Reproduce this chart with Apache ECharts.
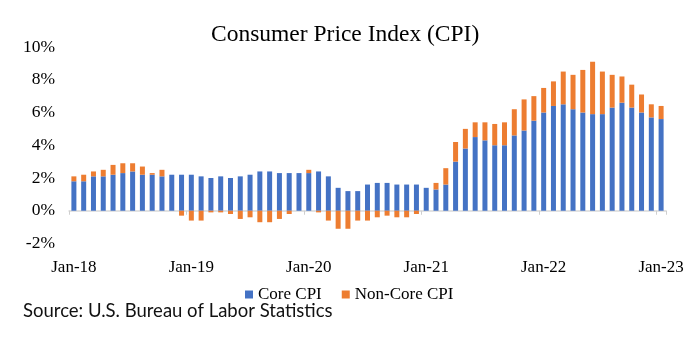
<!DOCTYPE html>
<html>
<head>
<meta charset="utf-8">
<script src="https://cdn.jsdelivr.net/npm/echarts@6/dist/echarts.min.js"></script>
<style>
  html, body { margin: 0; padding: 0; background: #fff; }
  #chart { width: 700px; height: 352px; }
</style>
</head>
<body>
<div id="chart"></div>
<script>
// months Jan-18 .. Jan-23
const years = ['18', '19', '20', '21', '22', '23']
const monthNames = ['Jan', 'Feb', 'Mar', 'Apr', 'May', 'Jun', 'Jul', 'Aug', 'Sep', 'Oct', 'Nov', 'Dec']
const months = []
years.forEach(y => monthNames.forEach(m => months.push(m + '-' + y)))
months.length = 61

// core CPI, % y/y
const coreCpi = [
  1.8, 1.8, 2.1, 2.1, 2.2, 2.3, 2.4, 2.2, 2.2, 2.1, 2.2, 2.2,
  2.2, 2.1, 2.0, 2.1, 2.0, 2.1, 2.2, 2.4, 2.4, 2.3, 2.3, 2.3,
  2.3, 2.4, 2.1, 1.4, 1.2, 1.2, 1.6, 1.7, 1.7, 1.6, 1.6, 1.6,
  1.4, 1.3, 1.6, 3.0, 3.8, 4.5, 4.3, 4.0, 4.0, 4.6, 4.9, 5.5,
  6.0, 6.4, 6.5, 6.2, 6.0, 5.9, 5.9, 6.3, 6.6, 6.3, 6.0, 5.7,
  5.6
]

// non-core contribution, percentage points
const nonCoreCpi = [
  0.3, 0.4, 0.3, 0.4, 0.6, 0.6, 0.5, 0.5, 0.1, 0.4, 0.0, -0.3,
  -0.6, -0.6, -0.1, -0.1, -0.2, -0.5, -0.4, -0.7, -0.7, -0.5, -0.2, 0.0,
  0.2, -0.1, -0.6, -1.1, -1.1, -0.6, -0.6, -0.4, -0.3, -0.4, -0.4, -0.2,
  0.0, 0.4, 1.0, 1.2, 1.2, 0.9, 1.1, 1.3, 1.4, 1.6, 1.9, 1.5,
  1.5, 1.5, 2.0, 2.1, 2.6, 3.2, 2.6, 2.0, 1.6, 1.4, 1.1, 0.8,
  0.8
]

const serif = '"Liberation Serif", "Times New Roman", serif'

const chart = echarts.init(document.getElementById('chart'))
const option = {
  animation: false,
  title: {
    text: 'Consumer Price Index (CPI)',
    left: 206,
    top: 18,
    textStyle: { fontFamily: serif, fontSize: 23.5, fontWeight: 'normal', color: '#000' }
  },
  legend: {
    left: 240,
    top: 281,
    itemWidth: 8,
    itemHeight: 8,
    itemGap: 20,
    icon: 'rect',
    textStyle: { fontFamily: serif, fontSize: 17, color: '#000' }
  },
  grid: { left: 69, right: 34, top: 47, bottom: 108.5 },
  xAxis: [
    {
      type: 'category',
      data: months,
      position: 'bottom',
      axisLine: { onZero: true, lineStyle: { color: '#d9d9d9', width: 1.5 } },
      axisTick: { show: true, interval: 11, length: 4, lineStyle: { color: '#cfcfcf' } },
      axisLabel: { show: false }
    },
    {
      type: 'category',
      data: months,
      position: 'bottom',
      axisLine: { show: false, onZero: false },
      axisTick: { show: false },
      axisLabel: {
        interval: 11,
        margin: 16,
        fontFamily: serif,
        fontSize: 17,
        color: '#000'
      }
    }
  ],
  yAxis: {
    type: 'value',
    min: -2,
    max: 10,
    interval: 2,
    axisLine: { show: false },
    axisTick: { show: false },
    splitLine: { show: false },
    axisLabel: {
      formatter: '{value}%',
      margin: 14,
      fontFamily: serif,
      fontSize: 17.5,
      color: '#000'
    }
  },
  series: [
    {
      name: 'Core CPI',
      type: 'bar',
      stack: 'cpi',
      barWidth: 5,
      itemStyle: { color: '#4472c4' },
      data: coreCpi
    },
    {
      name: 'Non-Core CPI',
      type: 'bar',
      stack: 'cpi',
      barWidth: 5,
      itemStyle: { color: '#ed7d31' },
      data: nonCoreCpi
    }
  ],
  graphic: [
    {
      type: 'text',
      left: 23,
      top: 302,
      style: {
        text: 'Source: U.S. Bureau of Labor Statistics',
        font: '18.5px Lato, "Open Sans", sans-serif',
        fill: '#111'
      }
    }
  ]
}
chart.setOption(option)
</script>
</body>
</html>
